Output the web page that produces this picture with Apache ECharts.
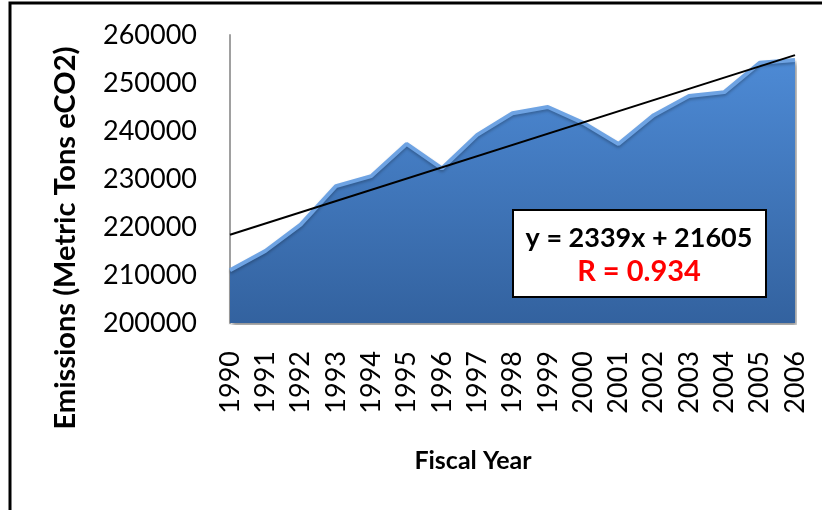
<!DOCTYPE html>
<html>
<head>
<meta charset="utf-8">
<script src="https://cdn.jsdelivr.net/npm/echarts@6/dist/echarts.min.js"></script>
<style>
  html, body { margin: 0; padding: 0; background: #fff; }
  #chart { width: 822px; height: 510px; }
</style>
</head>
<body>
<div id="chart"></div>
<script>
const years = ['1990', '1991', '1992', '1993', '1994', '1995', '1996', '1997', '1998',
  '1999', '2000', '2001', '2002', '2003', '2004', '2005', '2006']
const emissions = [211000, 215000, 220500, 228500, 230600, 237300, 232200, 239200, 243700,
  245000, 241700, 237300, 243300, 247300, 248100, 254200, 254800]
// trendline end points
const trendStart = 218400
const trendEnd = 255800
const yTicks = [200000, 260000, 10000] // min, max, step

const FONT = 'Lato'

const chart = echarts.init(document.getElementById('chart'))
chart.setOption({
  animation: false,
  grid: {
    left: 230,
    right: 27,
    top: 35,
    bottom: 187
  },
  xAxis: {
    type: 'category',
    data: years,
    boundaryGap: false,
    axisLine: { show: false },
    axisTick: { show: false },
    axisLabel: {
      rotate: 90,
      margin: 28,
      fontFamily: FONT,
      fontSize: 27,
      color: '#000',
      interval: 0
    }
  },
  yAxis: {
    type: 'value',
    min: yTicks[0],
    max: yTicks[1],
    interval: yTicks[2],
    axisLine: { show: true, lineStyle: { color: '#a0a0a0', width: 2 } },
    axisTick: { show: false },
    splitLine: { show: false },
    axisLabel: {
      margin: 33,
      fontFamily: FONT,
      fontSize: 27,
      color: '#000',
      formatter: v => String(v)
    }
  },
  series: [{
    name: 'Emissions',
    type: 'line',
    data: emissions,
    symbol: 'none',
    z: 2,
    lineStyle: {
      color: '#6ea3e3',
      width: 4,
      shadowColor: 'rgba(0,0,0,0.25)',
      shadowBlur: 3,
      shadowOffsetY: 2
    },
    areaStyle: {
      opacity: 1,
      color: new echarts.graphic.LinearGradient(0, 0, 0, 1, [
        { offset: 0, color: '#4d8ad5' },
        { offset: 1, color: '#33629f' }
      ]),
      shadowColor: 'rgba(0,0,0,0.45)',
      shadowBlur: 4,
      shadowOffsetX: 2,
      shadowOffsetY: 3
    },
    markLine: {
      silent: true,
      symbol: 'none',
      label: { show: false },
      lineStyle: { color: '#000', width: 2, type: 'solid' },
      data: [[
        { coord: [years[0], trendStart] },
        { coord: [years[years.length - 1], trendEnd] }
      ]]
    }
  }],
  graphic: [
    {
      type: 'rect',
      shape: { x: 10, y: 3, width: 830, height: 530 },
      style: { fill: 'none', stroke: '#000', lineWidth: 3 },
      silent: true,
      z: 0
    },
    {
      type: 'text',
      x: 66, y: 238,
      rotation: Math.PI / 2,
      style: {
        text: 'Emissions (Metric Tons eCO2)',
        fontFamily: FONT, fontWeight: 'bold', fontSize: 29, fill: '#000',
        textAlign: 'center', textVerticalAlign: 'middle'
      }
    },
    {
      type: 'text',
      x: 473, y: 461,
      style: {
        text: 'Fiscal Year',
        fontFamily: FONT, fontWeight: 'bold', fontSize: 25, fill: '#000',
        textAlign: 'center', textVerticalAlign: 'middle'
      }
    },
    {
      type: 'rect',
      shape: { x: 513, y: 210, width: 253, height: 87 },
      style: { fill: '#fff', stroke: '#000', lineWidth: 2 },
      z: 10
    },
    {
      type: 'text',
      x: 639, y: 238,
      style: {
        text: 'y = 2339x + 21605',
        fontFamily: FONT, fontWeight: 'bold', fontSize: 27, fill: '#000',
        textAlign: 'center', textVerticalAlign: 'middle'
      },
      z: 11
    },
    {
      type: 'text',
      x: 639, y: 272,
      style: {
        text: 'R = 0.934',
        fontFamily: FONT, fontWeight: 'bold', fontSize: 29, fill: '#ff0000',
        textAlign: 'center', textVerticalAlign: 'middle'
      },
      z: 11
    }
  ]
})
</script>
</body>
</html>
